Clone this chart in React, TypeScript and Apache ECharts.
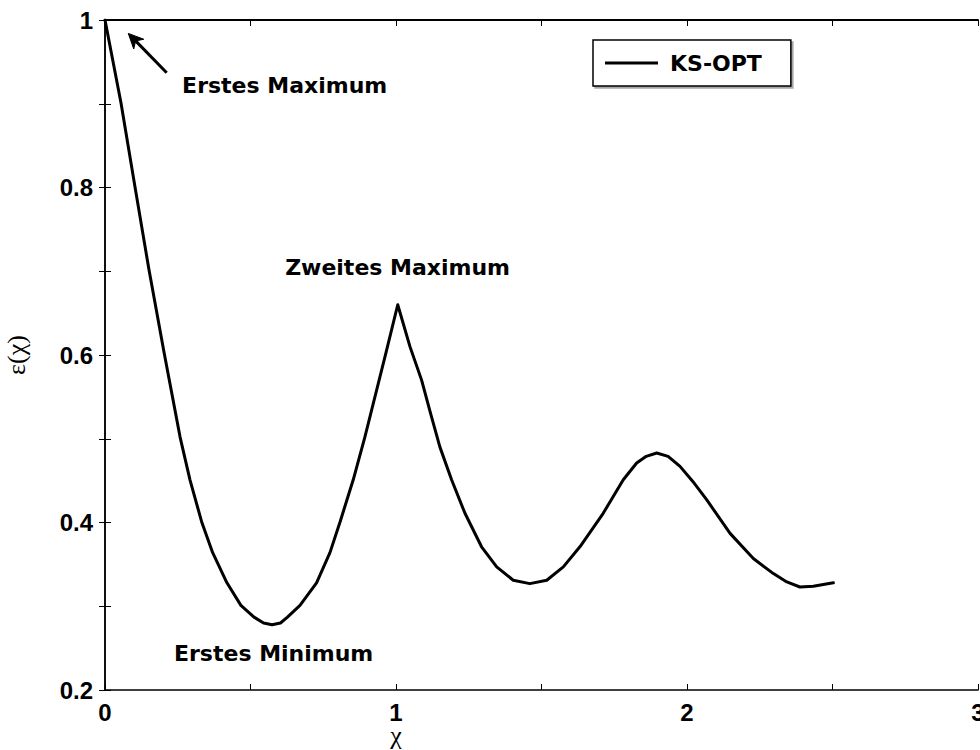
import React, { useEffect, useRef } from "react";
import * as echarts from "echarts";

// ---- data ----
const chiValues = [
  0, 0.055, 0.103, 0.151, 0.203, 0.258, 0.292, 0.332, 0.37, 0.419, 0.467, 0.512,
  0.545, 0.574, 0.603, 0.627, 0.67, 0.727, 0.773, 0.808, 0.853, 0.893, 0.965, 1.006,
  1.048, 1.088, 1.119, 1.151, 1.191, 1.237, 1.294, 1.346, 1.403, 1.46, 1.518, 1.575,
  1.632, 1.712, 1.781, 1.827, 1.86, 1.896, 1.935, 1.976, 2.02, 2.068, 2.148, 2.228,
  2.297, 2.343, 2.388, 2.434, 2.503,
];
const epsValues = [
  1.0, 0.901, 0.801, 0.702, 0.603, 0.502, 0.451, 0.401, 0.364, 0.328, 0.301, 0.287,
  0.28, 0.278, 0.28, 0.287, 0.301, 0.328, 0.364, 0.401, 0.451, 0.502, 0.602, 0.66,
  0.61, 0.57, 0.53, 0.49, 0.451, 0.411, 0.371, 0.347, 0.331, 0.327, 0.331, 0.347,
  0.371, 0.411, 0.451, 0.471, 0.479, 0.483, 0.479, 0.467, 0.449, 0.427, 0.387, 0.357,
  0.339, 0.329, 0.323, 0.324, 0.328,
];
const seriesName = "KS-OPT";

const xMin = 0;
const xMax = 3;
const xTickStep = 0.5;
const yMin = 0.2;
const yMax = 1;
const yTickStep = 0.1;

const annotationTexts = ["Erstes Maximum", "Zweites Maximum", "Erstes Minimum"];
const annotationX = [0.265, 0.619, 0.237];
const annotationY = [0.922, 0.705, 0.243];

const arrowTail = [0.212, 0.937];
const arrowHead = [0.08, 0.984];

const xAxisTitle = "χ";
const xAxisTitleAt = 1.0; // the title sits under x = 1 in the reference
const yAxisTitle = "ε(χ)";

export default function App() {
  const ref = useRef<HTMLDivElement>(null);

  useEffect(() => {
    if (!ref.current) return;
    const chart = echarts.init(ref.current, undefined, { renderer: "svg" });

    const tickFont = {
      fontFamily: "Liberation Sans",
      fontWeight: "bold" as const,
      fontSize: 24,
      color: "#000",
    };
    const axisLine = { show: true, lineStyle: { color: "#000", width: 1.5 } };
    const axisTick = { show: true, inside: true, length: 6, lineStyle: { color: "#000", width: 1 } };

    const xFmt = (v: number) => (Math.abs(v - Math.round(v)) < 1e-6 ? String(Math.round(v)) : "");
    const yFmt = (v: number) => {
      const k = Math.round(v * 10);
      if (k % 2 !== 0) return "";
      return k === 10 ? "1" : (k / 10).toFixed(1);
    };

    const data = chiValues.map((x, i) => [x, epsValues[i]]);

    chart.setOption({
      animation: false,
      backgroundColor: "#fff",
      grid: {
        left: 105,
        top: 20,
        right: 2,
        bottom: 60,
        containLabel: false,
        outerBoundsMode: "none",
      },
      legend: {
        data: [seriesName],
        left: 593,
        top: 40,
        padding: [12, 29, 12, 12],
        borderColor: "#000",
        borderWidth: 1.5,
        backgroundColor: "#fff",
        shadowColor: "rgba(0,0,0,0.35)",
        shadowOffsetX: 2,
        shadowOffsetY: 2,
        shadowBlur: 0,
        itemWidth: 53,
        itemHeight: 14,
        icon: "path://M0,0 L53,0 L53,3 L0,3 Z",
        itemStyle: { color: "#000" },
        textStyle: {
          fontFamily: "DejaVu Sans",
          fontWeight: "bold",
          fontSize: 22,
          color: "#000",
          padding: [0, 0, 0, 7],
        },
      },
      xAxis: [
        {
          type: "value",
          min: xMin,
          max: xMax,
          interval: xTickStep,
          position: "bottom",
          axisLine,
          axisTick,
          splitLine: { show: false },
          axisLabel: { ...tickFont, lineHeight: 20, margin: 12, formatter: xFmt, showMaxLabel: true },
        },
        {
          type: "value",
          min: xMin,
          max: xMax,
          interval: xTickStep,
          position: "top",
          axisLine: { show: true, lineStyle: { color: "#000", width: 2 } },
          axisTick,
          splitLine: { show: false },
          axisLabel: { show: false },
        },
      ],
      yAxis: [
        {
          type: "value",
          min: yMin,
          max: yMax,
          interval: yTickStep,
          position: "left",
          axisLine,
          axisTick,
          splitLine: { show: false },
          axisLabel: { ...tickFont, margin: 12, formatter: yFmt },
          name: yAxisTitle,
          nameLocation: "middle",
          nameGap: 76,
          nameTextStyle: { fontFamily: "Liberation Serif", fontSize: 26, color: "#000" },
        },
        {
          type: "value",
          min: yMin,
          max: yMax,
          interval: yTickStep,
          position: "right",
          axisLine: { show: true, lineStyle: { color: "#000", width: 1.5 } },
          axisTick,
          splitLine: { show: false },
          axisLabel: { show: false },
        },
      ],
      series: [
        {
          name: seriesName,
          type: "line",
          xAxisIndex: 0,
          yAxisIndex: 0,
          data,
          symbol: "none",
          smooth: false,
          lineStyle: { color: "#000", width: 3, join: "round", cap: "round" },
          itemStyle: { color: "#000" },
        },
      ],
    });

    // annotations positioned through the chart's own coordinate system
    const toPx = (p: number[]) => chart.convertToPixel({ gridIndex: 0 }, p) as number[];
    const texts = annotationTexts.map((t, i) => {
      const p = toPx([annotationX[i], annotationY[i]]);
      return {
        type: "text",
        x: p[0],
        y: p[1],
        style: {
          text: t,
          fill: "#000",
          fontFamily: "DejaVu Sans",
          fontWeight: "bold",
          fontSize: 22,
          textAlign: "left",
          textVerticalAlign: "middle",
          verticalAlign: "middle",
        },
      };
    });
    const xTitlePos = toPx([xAxisTitleAt, yMin]);
    const tail = toPx(arrowTail);
    const head = toPx(arrowHead);
    const dx = head[0] - tail[0];
    const dy = head[1] - tail[1];
    const len = Math.hypot(dx, dy);
    const ux = dx / len;
    const uy = dy / len;
    const hl = 15;
    const hw = 7;
    const back = [head[0] - ux * hl, head[1] - uy * hl];
    const notch = [head[0] - ux * hl * 0.7, head[1] - uy * hl * 0.7];
    const left = [back[0] - uy * hw, back[1] + ux * hw];
    const right = [back[0] + uy * hw, back[1] - ux * hw];

    chart.setOption({
      graphic: [
        ...texts,
        {
          type: "text",
          x: xTitlePos[0],
          y: xTitlePos[1] + 45,
          style: {
            text: xAxisTitle,
            fill: "#000",
            fontFamily: "Liberation Serif",
            fontSize: 26,
            lineHeight: 22,
            textAlign: "center",
            textVerticalAlign: "middle",
            verticalAlign: "middle",
          },
        },
        {
          type: "line",
          shape: { x1: tail[0], y1: tail[1], x2: notch[0], y2: notch[1] },
          style: { stroke: "#000", lineWidth: 3 },
        },
        {
          type: "polygon",
          shape: { points: [head, left, notch, right] },
          style: { fill: "#000", stroke: "#000", lineWidth: 1 },
        },
      ],
    });

    return () => chart.dispose();
  }, []);

  return (
    <div
      ref={ref}
      style={{ position: "absolute", left: 0, top: 0, width: 980, height: 750, background: "#fff" }}
    />
  );
}
